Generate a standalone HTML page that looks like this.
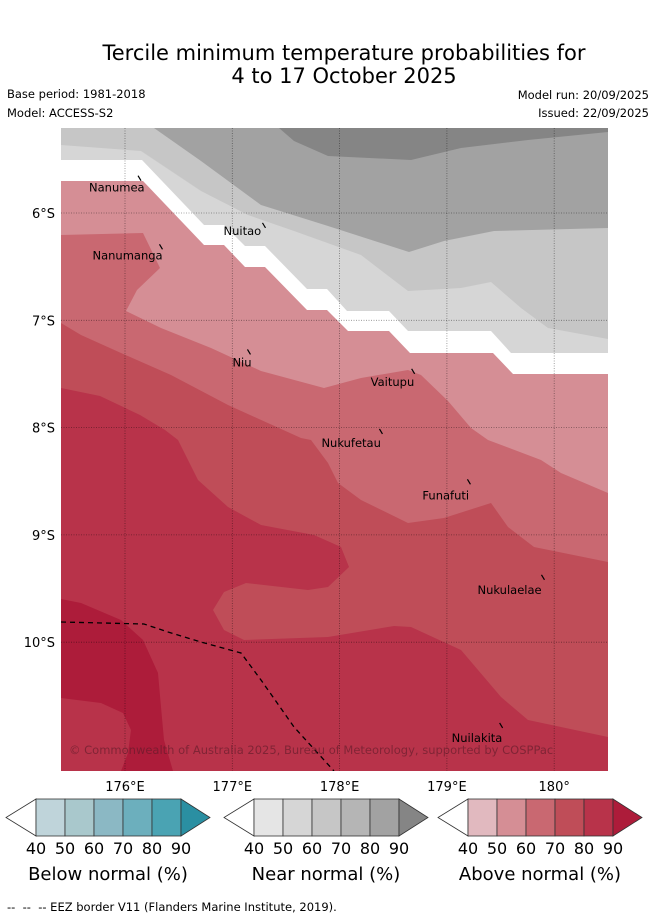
<!DOCTYPE html>
<html><head><meta charset="utf-8"><style>
body{margin:0;background:#fff;width:655px;height:919px;overflow:hidden;font-family:"Liberation Sans","DejaVu Sans",sans-serif}
svg{position:absolute;left:0;top:0}
</style></head><body>
<svg width="655" height="919" viewBox="0 0 655 919" font-family="DejaVu Sans, Liberation Sans, sans-serif">
<text x="344" y="60" text-anchor="middle" font-size="21">Tercile minimum temperature probabilities for</text>
<text x="344" y="83" text-anchor="middle" font-size="21">4 to 17 October 2025</text>
<text x="7" y="98" font-size="11.5">Base period: 1981-2018</text>
<text x="7" y="117" font-size="11.5">Model: ACCESS-S2</text>
<text x="649" y="99" font-size="11.5" text-anchor="end">Model run: 20/09/2025</text>
<text x="649" y="117" font-size="11.5" text-anchor="end">Issued: 22/09/2025</text>
<defs><clipPath id="mc"><rect x="61" y="128" width="547" height="643"/></clipPath></defs>
<g clip-path="url(#mc)">
<rect x="61" y="128" width="547" height="643" fill="#fff"/>
<polygon fill="#d6d6d6" points="61,128 608,128 608,353 511,353 491,331 408,331 389,311 347,311 327,289 307,289 265,246 245,246 224,225 204,225 142,160 61,160"/>
<polygon fill="#c6c6c6" points="61,128 608,128 608,339 548,328 521,308 491,282 461,288 408,291 361,255 294,231 248,215 201,191 141,151 61,145"/>
<polygon fill="#a2a2a2" points="154,128 608,128 608,228 494,231 444,241 409,252 328,226 261,205 201,161"/>
<polygon fill="#858585" points="279,128 608,128 608,132 528,140 461,148 411,160 328,156 294,141"/>
<polygon fill="#d58e95" points="61,181 143,181 204,245 224,245 245,267 265,267 307,310 327,310 348,331 389,331 410,353 493,353 513,374 608,374 608,771 61,771"/>
<polygon fill="#c96871" points="61,235 143,233 160,268 137,290 126,311 161,328 211,348 261,371 324,388 361,378 408,370 421,375 448,401 471,428 488,440 541,460 561,473 608,493 608,771 61,771"/>
<polygon fill="#bf4d58" points="61,323 81,335 121,353 171,375 228,405 301,438 311,440 328,463 338,483 361,500 408,523 444,518 491,503 508,527 534,547 608,562 608,771 61,771"/>
<polygon fill="#b8334a" points="61,388 100,396 140,415 165,430 178,440 198,480 228,507 261,525 314,535 341,547 349,567 328,587 308,590 246,583 224,592 213,610 224,630 244,640 328,637 394,626 411,627 461,650 501,697 528,720 608,737 608,771 61,771"/>
<polygon fill="#ad1c3a" points="61,599 81,603 121,620 143,640 158,673 161,707 164,740 173,771 121,771 128,753 131,730 123,713 101,703 61,698"/>
<g id="grid" stroke="#000" stroke-opacity="0.45" stroke-width="0.8" stroke-dasharray="1,1.5"></g>
<polyline fill="none" stroke="#000" stroke-width="1.3" stroke-dasharray="5,4" points="61,622 144,624 168,632 201,642 241,653 261,680 294,727 334,771"/>
<g id="towns" font-size="11.5"></g>
<text x="69" y="754" font-size="11.5" fill="#5a1a28" fill-opacity="0.6">© Commonwealth of Australia 2025, Bureau of Meteorology, supported by COSPPac</text>
</g>
<g id="axes" font-size="13"></g>
<g id="bars"></g>
<text x="7" y="911" font-size="11.5">-- &#160;-- &#160;-- EEZ border V11 (Flanders Marine Institute, 2019).</text>
</svg>
<script>
const lonTicks=[176,177,178,179,180];
const lonLabels=["176°E","177°E","178°E","179°E","180°"];
const latTicks=[6,7,8,9,10];
const latLabels=["6°S","7°S","8°S","9°S","10°S"];
const townNames=["Nanumea","Nanumanga","Nuitao","Niu","Vaitupu","Nukufetau","Funafuti","Nukulaelae","Nuilakita"];
const townLon=[176.14,176.34,177.30,177.16,178.69,178.39,179.21,179.90,179.51];
const townLat=[-5.68,-6.32,-6.12,-7.30,-7.48,-8.04,-8.51,-9.40,-10.78];
const townDx=[-51,-69,-41,-17,-43,-60,-47,-66,-50];
const townDy=[13,12,9,14,14,15,17,16,16];
const colorbarTicks=["40","50","60","70","80","90"];
const colorbarTitles=["Below normal (%)","Near normal (%)","Above normal (%)"];
const blues=["#bfd4da","#a9c8cc","#8bb8c4","#6cafbd","#4aa3b3","#2a8fa2"];
const greys=["#e5e5e5","#d6d6d6","#c6c6c6","#b5b5b5","#a2a2a2","#858585"];
const reds=["#e1b9bf","#d58e95","#c96871","#bf4d58","#b8334a","#ad1c3a"];
const NS="http://www.w3.org/2000/svg";
const xOf=lon=>125+(lon-176)*107.3;
const yOf=lat=>213+(-lat-6)*107.3;
function mk(tag,attrs,parent){const e=document.createElementNS(NS,tag);for(const k in attrs)e.setAttribute(k,attrs[k]);parent.appendChild(e);return e;}
const grid=document.getElementById('grid'),axes=document.getElementById('axes');
lonTicks.forEach((v,i)=>{const x=xOf(v);
 const l=mk('line',{x1:x,x2:x,y1:128,y2:771},grid);
 
 
 const t=mk('text',{x:x,y:791,'text-anchor':'middle'},axes);t.textContent=lonLabels[i];
 
 });
latTicks.forEach((v,i)=>{const y=yOf(-v);
 const l=mk('line',{x1:61,x2:608,y1:y,y2:y},grid);
 
 
 const t=mk('text',{x:55,y:y+5,'text-anchor':'end'},axes);t.textContent=latLabels[i];
 
 });
const towns=document.getElementById('towns');
townNames.forEach((n,i)=>{const x=xOf(townLon[i]),y=yOf(townLat[i]);
 const m=mk('line',{x1:x-2,y1:y-3,x2:x+1,y2:y+2,stroke:'#000','stroke-width':1.2},towns);
 
 
 const t=mk('text',{x:x+townDx[i],y:y+townDy[i]},towns);t.textContent=n;
 
 });
const bars=document.getElementById('bars');
[blues,greys,reds].forEach((cols,b)=>{const x0=[36,254,468][b],y0=799,h=37,w=29;
 const lt=mk('polygon',{points:`${x0},${y0} ${x0-30},${y0+h/2} ${x0},${y0+h}`,fill:'#fff',stroke:'#333','stroke-width':0.8},bars);
 
 
 for(let k=0;k<5;k++){const r=mk('rect',{x:x0+k*w,y:y0,width:w,height:h,fill:cols[k],stroke:'#333','stroke-width':0.8},bars);
  
  }
 const xe=x0+5*w;
 const rt=mk('polygon',{points:`${xe},${y0} ${xe+29},${y0+h/2} ${xe},${y0+h}`,fill:cols[5],stroke:'#333','stroke-width':0.8},bars);
 
 
 colorbarTicks.forEach((s,k)=>{const t=mk('text',{x:x0+k*w,y:854,'text-anchor':'middle','font-size':16},bars);t.textContent=s;
  
  });
 const tt=mk('text',{x:x0+72,y:880,'text-anchor':'middle','font-size':18},bars);tt.textContent=colorbarTitles[b];
 
 });
</script>
</body></html>
